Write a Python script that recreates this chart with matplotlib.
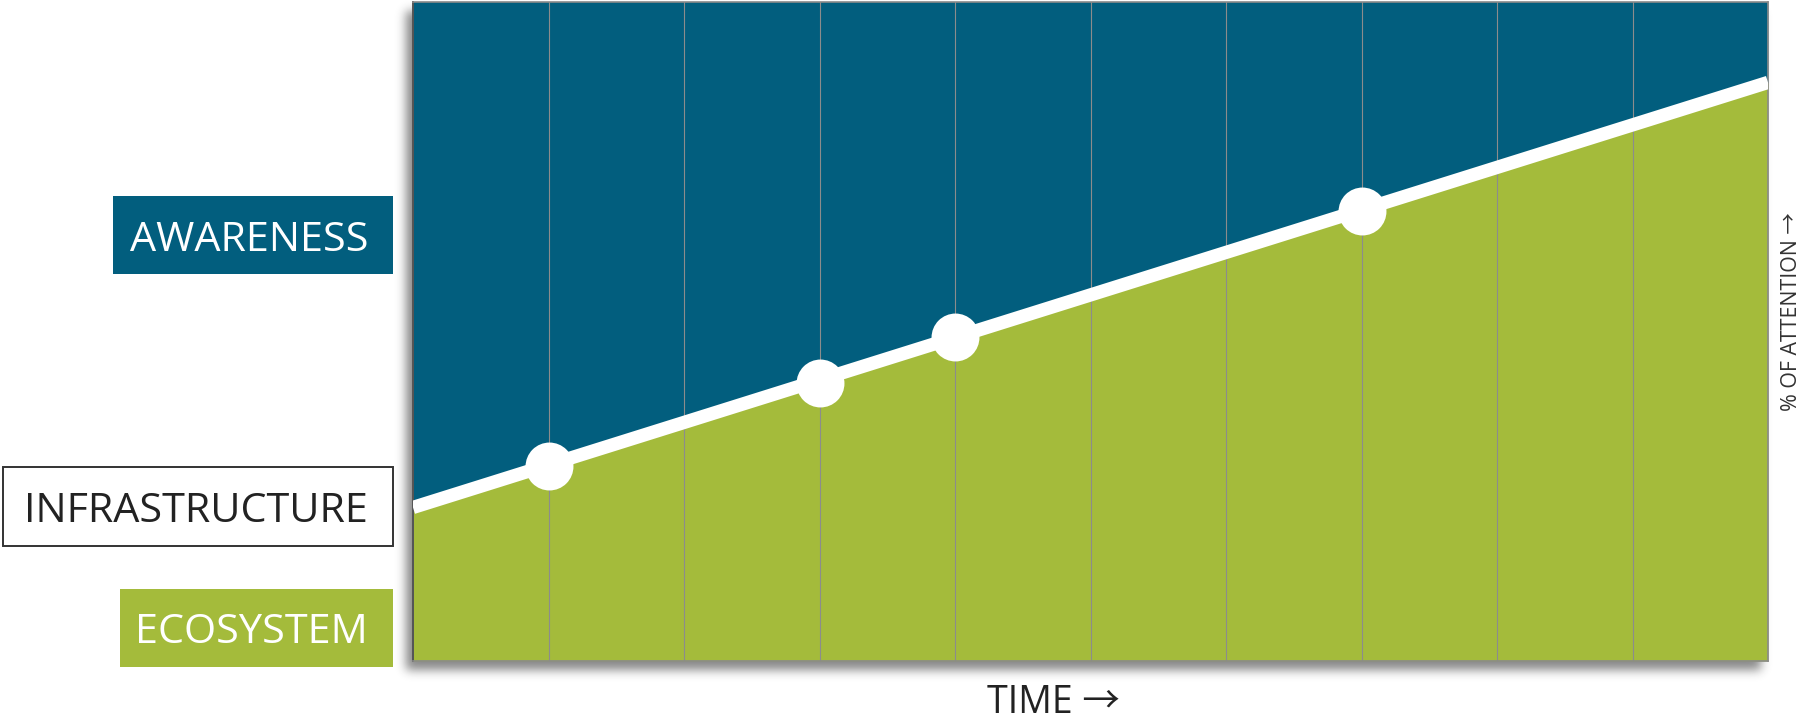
"""
Attention-over-time chart: awareness vs. ecosystem share with milestone dots.
"""

import matplotlib
matplotlib.use("Agg")
import matplotlib.pyplot as plt
from matplotlib.patches import Rectangle
import numpy as np

# ---------------------------------------------------------------------------
# Data
# ---------------------------------------------------------------------------
time_edges = [0, 10]
attention_edges = [23.3, 87.8]          # % of attention at start / end of the timeline
time_columns = [1, 2, 3, 4, 5, 6, 7, 8, 9]
milestone_time = [1, 3, 4, 7]
milestone_attention = [29.6, 42.2, 49.2, 68.3]

labels = ["AWARENESS", "INFRASTRUCTURE", "ECOSYSTEM"]

COLORS = {
    "awareness": "#025E7E",
    "ecosystem": "#A4BB3B",
    "grid": "#8C8C8C",
    "text": "#222222",
    "frame": "#333333",
}

FONT = ["Open Sans", "DejaVu Sans"]
# Open Sans has no arrow glyph; the CJK face supplies a larger one
ARROW_FONT = ["Open Sans", "Noto Sans CJK JP", "DejaVu Sans"]

W, H, DPI = 1802, 720, 100
fig = plt.figure(figsize=(W / DPI, H / DPI), dpi=DPI)
fig.patch.set_facecolor("white")

# Full-figure overlay in pixel coordinates for the shadow, boxes and captions
bg = fig.add_axes([0, 0, 1, 1], zorder=0)
bg.set_xlim(0, W)
bg.set_ylim(H, 0)
bg.axis("off")

# Chart frame position (pixels)
x0, x1, y0, y1 = 413, 1768, 2, 661

# Soft drop shadow, offset down-left
def _blur(a, sigma):
    r = int(3 * sigma)
    k = np.exp(-0.5 * (np.arange(-r, r + 1) / sigma) ** 2)
    k /= k.sum()
    a = np.apply_along_axis(lambda v: np.convolve(v, k, mode="same"), 0, a)
    a = np.apply_along_axis(lambda v: np.convolve(v, k, mode="same"), 1, a)
    return a

mask = np.zeros((H, W))
mask[y0 + 9:y1 + 9, x0 - 7:x1 - 7] = 1.0
alpha = _blur(mask, 5.0) * 0.55
shadow = np.zeros((H, W, 4))
shadow[..., :3] = 0.15
shadow[..., 3] = alpha
bg.imshow(shadow, extent=(0, W, H, 0), interpolation="bilinear", aspect="auto", zorder=0)

# Legend-style boxes on the left
boxes = [
    (113, 196, 280, 78, COLORS["awareness"], "none", "white", 251),
    (3, 467, 390, 79, "white", COLORS["frame"], COLORS["text"], 522),
    (120, 589, 273, 78, COLORS["ecosystem"], "none", "white", 643),
]
for label, (bx, by, bw, bh, fc, ec, tc, base) in zip(labels, boxes):
    bg.add_patch(Rectangle((bx, by), bw, bh, facecolor=fc, edgecolor=ec,
                           linewidth=1.4, zorder=2))
    bg.text(368, base, label, ha="right", va="baseline", fontsize=29.8,
            family=FONT, color=tc, zorder=3)

bg.text(1053, 713, "TIME \u2192", ha="center", va="baseline", fontsize=27,
        family=ARROW_FONT, color=COLORS["text"])
bg.text(1797, 312, "% OF ATTENTION \u2192", rotation=90, rotation_mode="anchor",
        ha="center", va="baseline", fontsize=15.4, family=ARROW_FONT,
        color="#333333")

# Main chart
ax = fig.add_axes([x0 / W, (H - y1) / H, (x1 - x0) / W, (y1 - y0) / H], zorder=1)
ax.set_xlim(*time_edges)
ax.set_ylim(0, 100)
ax.set_facecolor(COLORS["awareness"])

ax.fill_between(time_edges, attention_edges, 100, color=COLORS["awareness"],
                linewidth=0, zorder=1)
ax.fill_between(time_edges, 0, attention_edges, color=COLORS["ecosystem"],
                linewidth=0, zorder=1)

for t in time_columns:
    ax.axvline(t, color=COLORS["grid"], linewidth=0.8, zorder=2)

ax.plot(time_edges, attention_edges, color="white", linewidth=9.6,
        solid_capstyle="butt", zorder=3)
ax.plot(milestone_time, milestone_attention, "o", color="white",
        markersize=34.5, markeredgewidth=0, zorder=4)

ax.set_xticks([])
ax.set_yticks([])
for side in ["top", "right", "bottom"]:
    ax.spines[side].set_color("#8A8A8A")
    ax.spines[side].set_linewidth(1.2)
ax.spines["left"].set_color("#555555")
ax.spines["left"].set_linewidth(1.4)

fig.savefig("out.png", dpi=DPI, facecolor="white")
